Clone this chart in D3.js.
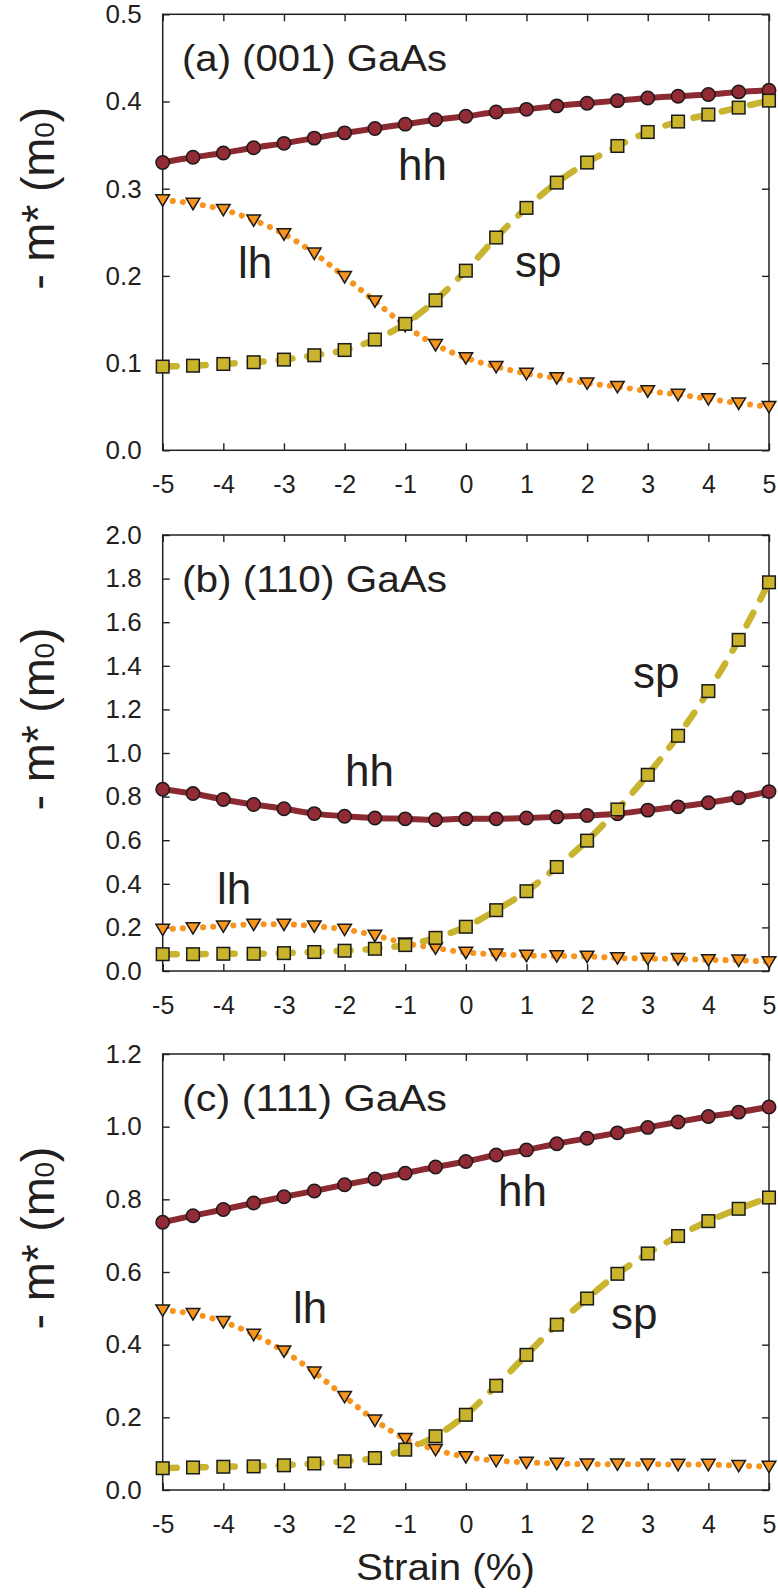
<!DOCTYPE html>
<html>
<head>
<meta charset="utf-8">
<script src="https://cdnjs.cloudflare.com/ajax/libs/d3/7.8.5/d3.min.js"></script>
<style>
body{margin:0;background:#fff;}
text{font-family:"Liberation Sans",Arial,sans-serif;fill:#231f20;}
</style>
</head>
<body>
<div id="chart"></div>
<script>
// strain axis, shared by all panels
var strain = [-5,-4.5,-4,-3.5,-3,-2.5,-2,-1.5,-1,-0.5,0,0.5,1,1.5,2,2.5,3,3.5,4,4.5,5];
var xTicks = [-5,-4,-3,-2,-1,0,1,2,3,4,5];

// (a) (001) GaAs
var hhA = [0.330,0.336,0.341,0.347,0.352,0.358,0.364,0.369,0.374,0.379,0.383,0.388,0.391,0.395,0.398,0.401,0.404,0.406,0.408,0.411,0.413];
var lhA = [0.287,0.283,0.276,0.264,0.248,0.226,0.199,0.171,0.143,0.121,0.106,0.096,0.088,0.083,0.077,0.073,0.068,0.064,0.059,0.054,0.050];
var spA = [0.096,0.097,0.099,0.101,0.104,0.109,0.115,0.127,0.145,0.172,0.206,0.244,0.278,0.307,0.330,0.349,0.365,0.377,0.385,0.393,0.401];
var yTicksA = [0,0.1,0.2,0.3,0.4,0.5];

// (b) (110) GaAs
var hhB = [0.834,0.814,0.787,0.764,0.744,0.722,0.710,0.702,0.698,0.694,0.698,0.698,0.702,0.707,0.713,0.721,0.738,0.753,0.772,0.795,0.823];
var lhB = [0.191,0.198,0.206,0.214,0.214,0.206,0.191,0.163,0.128,0.105,0.085,0.077,0.071,0.069,0.067,0.060,0.057,0.056,0.051,0.049,0.042];
var spB = [0.077,0.077,0.079,0.079,0.082,0.087,0.093,0.102,0.119,0.152,0.203,0.279,0.366,0.477,0.598,0.741,0.900,1.079,1.284,1.519,1.783];
var yTicksB = [0,0.2,0.4,0.6,0.8,1.0,1.2,1.4,1.6,1.8,2.0];

// (c) (111) GaAs
var hhC = [0.737,0.755,0.772,0.790,0.807,0.823,0.840,0.856,0.872,0.889,0.904,0.922,0.936,0.953,0.968,0.983,0.998,1.013,1.028,1.040,1.054];
var lhC = [0.495,0.485,0.463,0.428,0.382,0.324,0.257,0.192,0.141,0.111,0.091,0.081,0.076,0.073,0.071,0.071,0.071,0.070,0.070,0.067,0.065];
var spC = [0.060,0.062,0.064,0.065,0.068,0.073,0.079,0.088,0.111,0.148,0.207,0.287,0.372,0.455,0.527,0.595,0.651,0.699,0.740,0.774,0.805];
var yTicksC = [0,0.2,0.4,0.6,0.8,1.0,1.2];

var W = 778, H = 1594;
var left = 162.7, right = 769, ph = 436;
var ink = "#231f20";

var svg = d3.select("#chart").append("svg").attr("width", W).attr("height", H);

var x = d3.scaleLinear().domain([-5, 5]).range([left, right]);

// layout of each panel: top edge, title and curve labels (offsets from the panel top)
var panels = [
  {top: 14.3, title: "(a) (001) GaAs", yTicks: yTicksA, hh: hhA, lh: lhA, sp: spA,
   labels: [["hh", 398, 165.7], ["lh", 238, 263.4], ["sp", 515, 262.4]]},
  {top: 535, title: "(b) (110) GaAs", yTicks: yTicksB, hh: hhB, lh: lhB, sp: spB,
   labels: [["hh", 345, 250.7], ["lh", 217, 369], ["sp", 633, 152.6]]},
  {top: 1054, title: "(c) (111) GaAs", yTicks: yTicksC, hh: hhC, lh: lhC, sp: spC,
   labels: [["hh", 498, 152], ["lh", 293, 269], ["sp", 611, 274.6]]}
];

function drawPanel(p) {
  var top = p.top, bottom = p.top + ph;
  var yMax = p.yTicks[p.yTicks.length - 1];
  var y = d3.scaleLinear().domain([0, yMax]).range([bottom, top]);
  var g = svg.append("g");

  // axes, ticks pointing inward
  var bx = g.append("g").attr("transform", "translate(0," + bottom + ")")
    .call(d3.axisBottom(x).tickValues(xTicks).tickSize(-7).tickSizeOuter(0).tickPadding(24.8)
      .tickFormat(function(d){ return String(d); }));
  var tx = g.append("g").attr("transform", "translate(0," + top + ")")
    .call(d3.axisTop(x).tickValues(xTicks).tickSize(-7).tickSizeOuter(0).tickFormat(""));
  var ly = g.append("g").attr("transform", "translate(" + left + ",0)")
    .call(d3.axisLeft(y).tickValues(p.yTicks).tickSize(-7).tickSizeOuter(0).tickPadding(21)
      .tickFormat(d3.format(".1f")));
  var ry = g.append("g").attr("transform", "translate(" + right + ",0)")
    .call(d3.axisRight(y).tickValues(p.yTicks).tickSize(-7).tickSizeOuter(0).tickFormat(""));

  [bx, tx, ly, ry].forEach(function(a){
    a.select(".domain").remove();
    a.selectAll("line").attr("stroke", ink).attr("stroke-width", 1.4);
    a.selectAll("text").attr("fill", ink)
      .style("font-family", '"Liberation Sans",Arial,sans-serif');
  });
  bx.selectAll("text").attr("font-size", 25);
  ly.selectAll("text").attr("font-size", 26);

  g.append("rect").attr("x", left).attr("y", top).attr("width", right - left).attr("height", ph)
    .attr("fill", "none").attr("stroke", ink).attr("stroke-width", 1.5);

  var line = d3.line()
    .x(function(d, i){ return x(strain[i]); })
    .y(function(d){ return y(d); })
    .curve(d3.curveMonotoneX);

  // hh: solid line + circles
  g.append("path").attr("d", line(p.hh)).attr("fill", "none")
    .attr("stroke", "#8c2a31").attr("stroke-width", 6);
  g.selectAll(".hh").data(p.hh).enter().append("circle")
    .attr("cx", function(d, i){ return x(strain[i]); })
    .attr("cy", function(d){ return y(d); })
    .attr("r", 6.7).attr("fill", "#922b35").attr("stroke", "#1a1a1a").attr("stroke-width", 1.5);

  // lh: dotted line + down triangles
  g.append("path").attr("d", line(p.lh)).attr("fill", "none")
    .attr("stroke", "#f7941d").attr("stroke-width", 6)
    .attr("stroke-linecap", "round").attr("stroke-dasharray", "0.1,10");
  g.selectAll(".lh").data(p.lh).enter().append("path")
    .attr("d", "M-6.8,-5.2L6.8,-5.2L0,6.2Z")
    .attr("transform", function(d, i){ return "translate(" + x(strain[i]) + "," + y(d) + ")"; })
    .attr("fill", "#f7941d").attr("stroke", "#1a1a1a").attr("stroke-width", 1.5);

  // sp: dashed line + squares
  g.append("path").attr("d", line(p.sp)).attr("fill", "none")
    .attr("stroke", "#c9b42f").attr("stroke-width", 6.5)
    .attr("stroke-linecap", "round").attr("stroke-dasharray", "14,15");
  g.selectAll(".sp").data(p.sp).enter().append("rect")
    .attr("x", function(d, i){ return x(strain[i]) - 6.3; })
    .attr("y", function(d){ return y(d) - 6.3; })
    .attr("width", 12.6).attr("height", 12.6)
    .attr("fill", "#c9b42c").attr("stroke", "#1a1a1a").attr("stroke-width", 1.5);

  // panel title
  g.append("text").attr("x", 182).attr("y", top + 57)
    .attr("font-size", 36).attr("textLength", 265).attr("lengthAdjust", "spacingAndGlyphs")
    .text(p.title);

  // curve labels
  p.labels.forEach(function(l){
    g.append("text").attr("x", l[1]).attr("y", top + l[2]).attr("font-size", 44).text(l[0]);
  });

  // y title
  var yt = g.append("text").attr("transform", "translate(53.5," + (top + 184) + ") rotate(-90)")
    .attr("text-anchor", "middle").attr("font-size", 47)
    .attr("textLength", 183).attr("lengthAdjust", "spacing");
  yt.append("tspan").text("- m* (m");
  yt.append("tspan").attr("font-size", 28).text("0");
  yt.append("tspan").text(")");
}

panels.forEach(drawPanel);

svg.append("text").attr("x", 356).attr("y", 1580).attr("font-size", 37)
  .attr("textLength", 179).attr("lengthAdjust", "spacingAndGlyphs").text("Strain (%)");
</script>
</body>
</html>
